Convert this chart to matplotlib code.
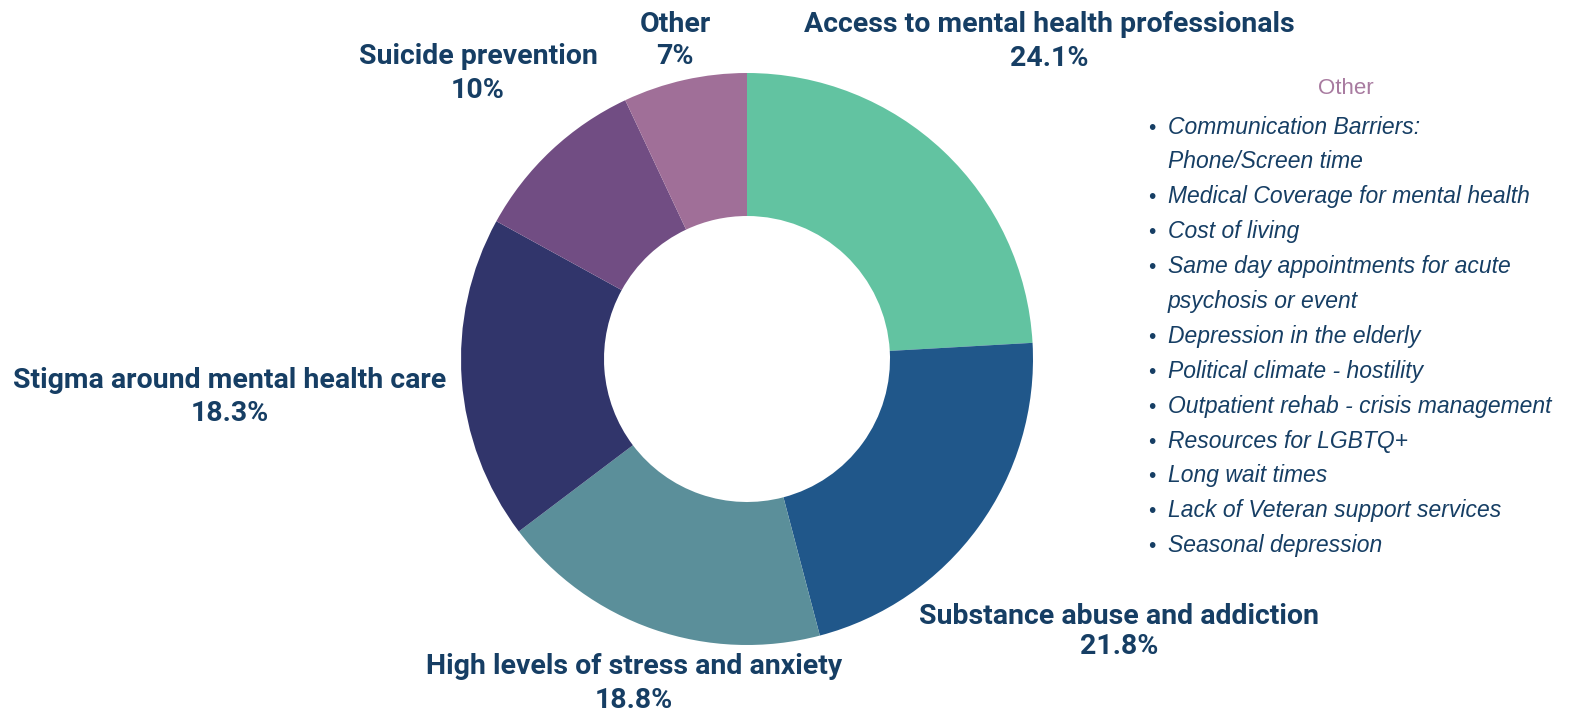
import matplotlib
matplotlib.use("Agg")
import matplotlib.pyplot as plt

W, H = 1575, 719

categories = ["Access to mental health professionals", "Substance abuse and addiction",
              "High levels of stress and anxiety", "Stigma around mental health care",
              "Suicide prevention", "Other"]
values = [24.1, 21.8, 18.8, 18.3, 10, 7]
value_labels = ["24.1%", "21.8%", "18.8%", "18.3%", "10%", "7%"]
colors = ["#62C3A1", "#20578A", "#5B8F9A", "#31356B", "#714D83", "#A06F98"]

other_items = ["Communication Barriers:\nPhone/Screen time", "Medical Coverage for mental health",
               "Cost of living", "Same day appointments for acute\npsychosis or event",
               "Depression in the elderly", "Political climate - hostility",
               "Outpatient rehab - crisis management", "Resources for LGBTQ+",
               "Long wait times", "Lack of Veteran support services", "Seasonal depression"]

TEXT = "#163E64"

fig = plt.figure(figsize=(W / 100, H / 100), dpi=100)

cx, cy, r = 747, 359, 286
ax = fig.add_axes([(cx - r) / W, (H - cy - r) / H, 2 * r / W, 2 * r / H])
ax.pie(values, colors=colors, startangle=90, counterclock=False,
       wedgeprops=dict(width=0.5, edgecolor="none"), radius=1)
ax.set_xlim(-1, 1)
ax.set_ylim(-1, 1)
ax.set_aspect("equal")
ax.axis("off")

def px(x, y):
    return x / W, 1 - y / H

label_pos = [(1049, 24, 59), (1119, 616, 646), (634, 667, 701),
             (230, 380, 414), (478, 57, 91), (675, 25, 56)]
for cat, vl, (x, y1, y2) in zip(categories, value_labels, label_pos):
    fig.text(*px(x, y1), cat, ha="center", va="center", fontsize=20.5,
             fontweight="bold", family="Roboto", color=TEXT)
    fig.text(*px(x, y2), vl, ha="center", va="center", fontsize=20.5,
             fontweight="bold", family="Roboto", color=TEXT)

fig.text(*px(1346, 89), "Other", ha="center", va="center", fontsize=16,
         family="Liberation Sans", color="#A87BA0")

y = 127
step = 34.9
for item in other_items:
    lines = item.split("\n")
    fig.text(*px(1152, y + 1), "•", ha="center", va="center", fontsize=15,
             family="Liberation Sans", color=TEXT)
    for ln in lines:
        fig.text(*px(1168, y), ln, ha="left", va="center", fontsize=16.5,
                 family="Liberation Sans", style="italic", color=TEXT)
        y += step

fig.savefig("out.png", dpi=100, facecolor="white")
